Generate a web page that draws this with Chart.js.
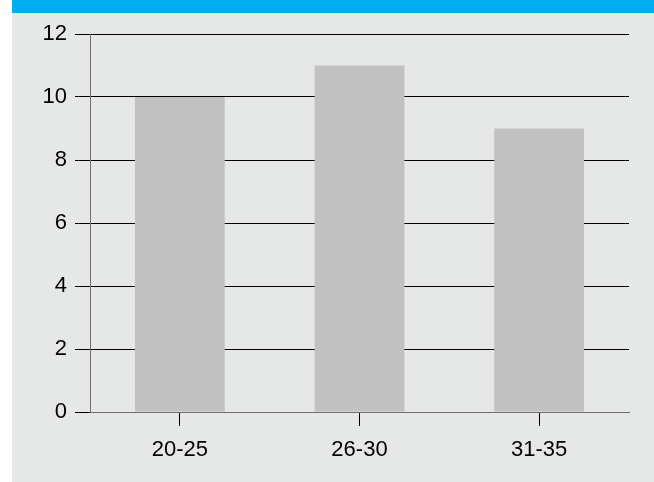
<!DOCTYPE html>
<html>
<head>
<meta charset="utf-8">
<script src="https://cdn.jsdelivr.net/npm/chart.js@4/dist/chart.umd.min.js"></script>
<style>
  body { margin: 0; background: #ffffff; }
  #wrap { position: relative; width: 654px; height: 482px; overflow: hidden; }
  .band { position: absolute; left: 12px; top: 0; width: 642px; height: 13px; background: #00aeef; }
  .panel { position: absolute; left: 12px; top: 13px; width: 642px; height: 469px; background: #e6e7e7; }
  canvas { position: absolute; left: 0; top: 0; }
</style>
</head>
<body>
<div id="wrap">
  <div class="band"></div>
  <div class="panel"></div>
  <canvas id="chart" width="654" height="482"></canvas>
</div>
<script>
// Age groups and counts
const categories = ["20-25", "26-30", "31-35"];
const counts = [10, 11, 9];
const yTicks = [0, 2, 4, 6, 8, 10, 12];

document.addEventListener("DOMContentLoaded", function() {
    const ctx = document.getElementById('chart').getContext('2d');
    const font = { family: "'Liberation Sans', Arial, sans-serif", size: 22 };

    new Chart(ctx, {
        type: 'bar',
        data: {
            labels: categories,
            datasets: [{
                data: counts,
                backgroundColor: '#c1c1c1',
                borderWidth: 0,
                barPercentage: 0.5,
                categoryPercentage: 1.0
            }]
        },
        options: {
            responsive: false,
            animation: false,
            layout: { padding: { top: 34, right: 25, left: 0, bottom: 0 } },
            plugins: { legend: { display: false }, tooltip: { enabled: false } },
            scales: {
                x: {
                    grid: {
                        offset: false,
                        drawOnChartArea: false,
                        color: '#000000',
                        tickLength: 14
                    },
                    border: { color: '#6e6e6e', width: 1 },
                    ticks: { color: '#000000', font: font, padding: 11 },
                    afterFit: function(scale) { scale.height = 70; }
                },
                y: {
                    min: 0,
                    max: 12,
                    afterBuildTicks: function(scale) {
                        scale.ticks = yTicks.map(v => ({ value: v }));
                    },
                    grid: {
                        color: ctx => ctx.tick && ctx.tick.value === 0 ? 'rgba(0,0,0,0)' : '#000000',
                        tickColor: '#000000',
                        tickLength: 15
                    },
                    border: { color: '#6e6e6e', width: 1 },
                    ticks: { color: '#000000', font: font, padding: 8 },
                    afterFit: function(scale) { scale.width = 90; }
                }
            }
        }
    });
});
</script>
</body>
</html>
